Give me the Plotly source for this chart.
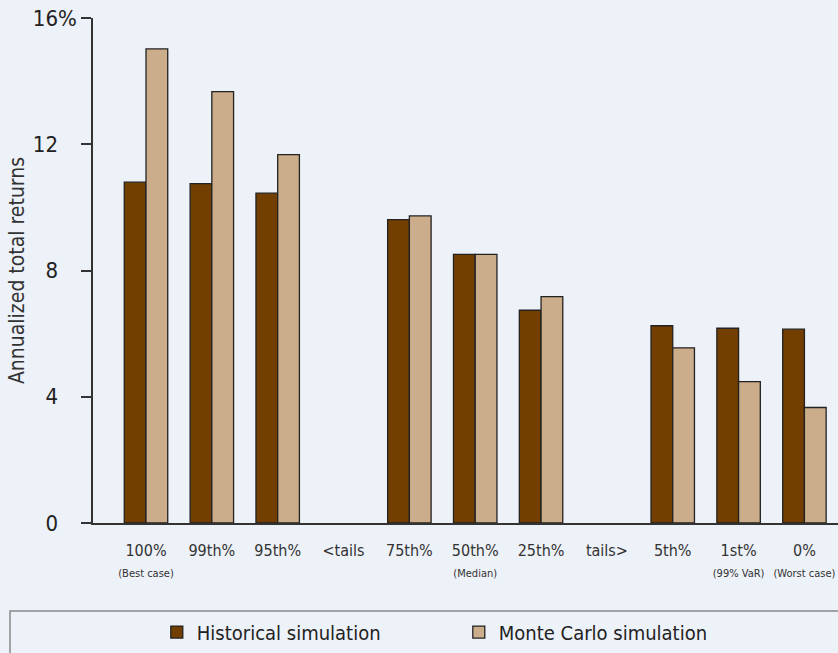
import plotly.graph_objects as go

categories = ["100%", "99th%", "95th%", "<tails", "75th%", "50th%", "25th%",
              "tails>", "5th%", "1st%", "0%"]
subtitles = ["(Best case)", "", "", "", "", "(Median)", "", "", "", "(99% VaR)", "(Worst case)"]
historical = [10.80, 10.75, 10.45, None, 9.61, 8.51, 6.74, None, 6.25, 6.17, 6.14]
monte_carlo = [15.02, 13.67, 11.67, None, 9.73, 8.51, 7.17, None, 5.55, 4.48, 3.66]
y_tickvals = [0, 4, 8, 12, 16]
y_ticktext = ["0", "4", "8", "12", "16%"]

BG = "#EDF1F8"
HIST_C = "#733F00"
MC_C = "#CBAD8B"
FONT = "Liberation Sans Narrow, DejaVu Sans Condensed, Roboto, sans-serif"

x = list(range(len(categories)))
ticktext = []
for c, s in zip(categories, subtitles):
    if s:
        ticktext.append(f"{c}<br><span style='font-size:11px'>{s}</span>")
    else:
        ticktext.append(f"{c}<br> ")

y_labels = [t if t.endswith("%") else t + "<span style='fill:rgba(0,0,0,0)'>%</span>" for t in y_ticktext]

fig = go.Figure()
fig.add_trace(go.Bar(x=x, y=historical, name="Historical simulation",
                     marker=dict(color=HIST_C, line=dict(color="#222222", width=1.3))))
fig.add_trace(go.Bar(x=x, y=monte_carlo, name="Monte Carlo simulation",
                     marker=dict(color=MC_C, line=dict(color="#222222", width=1.3))))

fig.update_layout(
    width=838, height=653,
    paper_bgcolor=BG, plot_bgcolor=BG,
    margin=dict(l=93, r=0, t=18, b=130),
    barmode="group", bargap=0.34, bargroupgap=0,
    font=dict(family=FONT, color="#222222"),
    showlegend=True,
    legend=dict(orientation="h", x=0.491, xanchor="center", y=-0.216, yanchor="middle",
                font=dict(size=20, family=FONT, color="#222222"),
                bgcolor="rgba(0,0,0,0)", entrywidth=257, entrywidthmode="pixels"),
    shapes=[dict(type="rect", xref="paper", yref="paper",
                 x0=-0.1114, x1=1.05, y0=-0.1743, y1=-0.3,
                 line=dict(color="#888888", width=1.5), fillcolor="rgba(0,0,0,0)",
                 layer="below")],
)
fig.update_xaxes(
    range=[-0.805, 10.51], tickmode="array", tickvals=x, ticktext=ticktext,
    tickfont=dict(size=16, family=FONT, color="#333333"),
    showline=True, linecolor="#333333", linewidth=1.5,
    ticks="outside", ticklen=12, tickcolor=BG, showgrid=False, zeroline=False,
)
fig.update_yaxes(
    range=[0, 16], tickmode="array", tickvals=y_tickvals, ticktext=y_labels,
    tickfont=dict(size=22, family=FONT, color="#222222"),
    showline=True, linecolor="#333333", linewidth=1.5,
    ticks="outside", ticklen=10, tickcolor="#333333", tickwidth=1.5,
    showgrid=False, zeroline=False,
    title=dict(text="Annualized total returns", font=dict(size=21, family=FONT, color="#333333"),
               standoff=2),
)

fig.write_html("out.html", config={"displayModeBar": False},
               post_script="document.body.style.margin='0';document.body.style.background='" + BG + "';")
